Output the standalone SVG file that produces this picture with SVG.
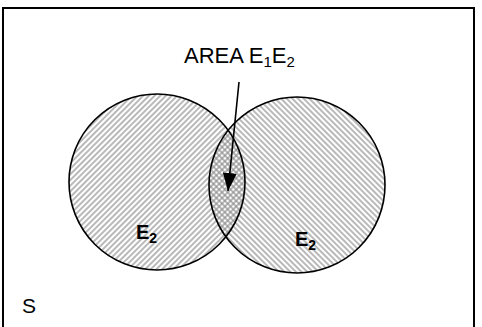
<svg xmlns="http://www.w3.org/2000/svg" width="482" height="327" viewBox="0 0 482 327">
<style>
.lbl{font-family:"Liberation Sans",Arial,sans-serif;fill:#000}
.circ{stroke:#000;stroke-width:1.6}
.frame{fill:none;stroke:#000;stroke-width:2}
.conn{stroke:#000;stroke-width:1.6;fill:none}
</style>
<defs>
<pattern id="hatchL" patternUnits="userSpaceOnUse" width="4" height="4" patternTransform="rotate(45)">
<line x1="1" y1="0" x2="1" y2="4" stroke="#8a8a8a" stroke-width="1.2"/>
</pattern>
<pattern id="hatchR" patternUnits="userSpaceOnUse" width="4" height="4" patternTransform="rotate(-45)">
<line x1="1" y1="0" x2="1" y2="4" stroke="#8a8a8a" stroke-width="1.2"/>
</pattern>
<marker id="arrow" markerWidth="18" markerHeight="14" refX="18" refY="7" orient="auto" markerUnits="userSpaceOnUse" viewBox="0 0 18 14">
<path d="M0,0 L18,7 L0,14 Z" fill="#000"/>
</marker>
</defs>
<g id="frame"><path class="frame" d="M3,327 L3,8 L474,8 L474,327"/></g>
<g id="E2-left">
<circle cx="157" cy="182" r="88" fill="url(#hatchL)"/>
</g>
<g id="E2-right">
<circle cx="297" cy="185" r="88" fill="url(#hatchR)"/>
</g>
<g id="outlines">
<circle class="circ" cx="157" cy="182" r="88" fill="none"/>
<circle class="circ" cx="297" cy="185" r="88" fill="none"/>
</g>
<g id="labels">
<text class="lbl" x="136" y="239" font-size="20" font-weight="bold">E<tspan font-size="14" dy="4">2</tspan></text>
<text class="lbl" x="295" y="246" font-size="20" font-weight="bold">E<tspan font-size="14" dy="4">2</tspan></text>
<text class="lbl" x="22" y="313" font-size="21">S</text>
</g>
<g id="area-label">
<text class="lbl" x="184" y="63" font-size="22">AREA E<tspan font-size="15" dy="4">1</tspan><tspan dy="-4">E</tspan><tspan font-size="15" dy="4">2</tspan></text>
</g>
<g id="connectors">
<line class="conn" x1="239" y1="82" x2="228" y2="191" marker-end="url(#arrow)"/>
</g>
</svg>
